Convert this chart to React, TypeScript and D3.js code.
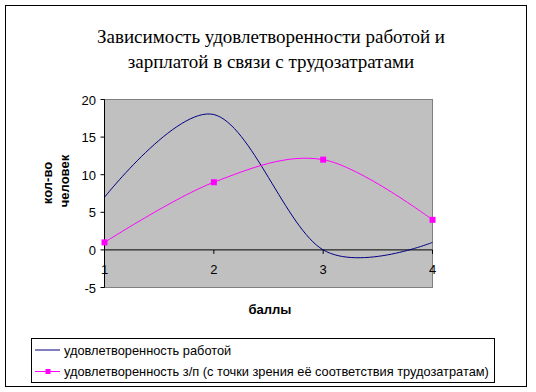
import React from "react";
import * as d3 from "d3";

const categories = [1, 2, 3, 4];
const jobSatisfaction = [7, 18, 0, 1];
const paySatisfaction = [1, 9, 12, 4];
const yTicks = [-5, 0, 5, 10, 15, 20];
const seriesNames = [
  "удовлетворенность работой",
  "удовлетворенность з/п (с точки зрения её соответствия трудозатратам)",
];
const titleLines = [
  "Зависимость удовлетворенности работой и",
  "зарплатой в связи с трудозатратами",
];

const W = 536;
const H = 392;
const plot = { left: 104.5, right: 432.5, top: 99.5, bottom: 287.5 };
const sans = "'Liberation Sans', Arial, sans-serif";

const App = () => {
  const x = d3.scaleLinear().domain([1, 4]).range([plot.left, plot.right]);
  const y = d3.scaleLinear().domain([-5, 20]).range([plot.bottom, plot.top]);

  const line = d3
    .line<number>()
    .x((d, i) => x(categories[i]))
    .y((d) => y(d))
    .curve(d3.curveCardinal.tension(0));

  return (
    <svg
      width={W}
      height={H}
      style={{ position: "absolute", left: 0, top: 0, background: "#fff" }}
    >
      <rect x={5.5} y={5.5} width={521} height={381} fill="#fff" stroke="#000" />

      {titleLines.map((t, i) => (
        <text
          key={i}
          x={271}
          y={43 + i * 25}
          textAnchor="middle"
          fontFamily="'Liberation Serif', 'Times New Roman', serif"
          fontSize={19}
        >
          {t}
        </text>
      ))}

      <rect
        x={plot.left}
        y={plot.top}
        width={plot.right - plot.left}
        height={plot.bottom - plot.top}
        fill="#C0C0C0"
        stroke="#808080"
      />
      <line x1={plot.left} x2={plot.left} y1={plot.top} y2={plot.bottom} stroke="#000" />

      {yTicks.map((t) => (
        <g key={t}>
          <line x1={plot.left - 4} x2={plot.left} y1={y(t)} y2={y(t)} stroke="#000" />
          <text
            x={96}
            y={y(t) + 5}
            textAnchor="end"
            fontFamily={sans}
            fontSize={13}
          >
            {t}
          </text>
        </g>
      ))}

      <line x1={plot.left} x2={plot.right} y1={y(0)} y2={y(0)} stroke="#000" />
      {categories.map((c) => (
        <g key={c}>
          <line x1={x(c)} x2={x(c)} y1={y(0)} y2={y(0) + 4} stroke="#000" />
          <text
            x={x(c)}
            y={y(0) + 24}
            textAnchor="middle"
            fontFamily={sans}
            fontSize={13}
          >
            {c}
          </text>
        </g>
      ))}

      <path d={line(jobSatisfaction) || ""} fill="none" stroke="#000080" strokeWidth={1} />
      <path d={line(paySatisfaction) || ""} fill="none" stroke="#FF00FF" strokeWidth={1} />
      {paySatisfaction.map((v, i) => (
        <rect
          key={i}
          x={x(categories[i]) - 3}
          y={y(v) - 3}
          width={6}
          height={6}
          fill="#FF00FF"
        />
      ))}

      <text
        transform="translate(52,183) rotate(-90)"
        textAnchor="middle"
        fontFamily={sans}
        fontSize={13}
        fontWeight="bold"
      >
        кол-во
      </text>
      <text
        transform="translate(69,181) rotate(-90)"
        textAnchor="middle"
        fontFamily={sans}
        fontSize={13}
        fontWeight="bold"
      >
        человек
      </text>
      <text
        x={270}
        y={314}
        textAnchor="middle"
        fontFamily={sans}
        fontSize={13}
        fontWeight="bold"
      >
        баллы
      </text>

      <rect x={31.5} y={338.5} width={463} height={44} fill="#fff" stroke="#000" />
      {seriesNames.map((name, i) => {
        const cy = 350 + i * 21.5;
        const color = i === 0 ? "#000080" : "#FF00FF";
        return (
          <g key={name}>
            <line x1={35} x2={60} y1={cy} y2={cy} stroke={color} />
            {i === 1 && <rect x={45.5} y={cy - 2.5} width={5} height={5} fill={color} />}
            <text x={64} y={cy + 4.5} fontFamily={sans} fontSize={12.8}>
              {name}
            </text>
          </g>
        );
      })}
    </svg>
  );
};

export default App;
